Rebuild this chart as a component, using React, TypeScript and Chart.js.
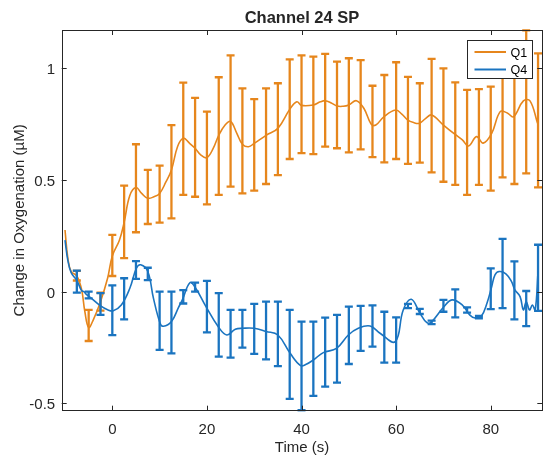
import React, { useEffect, useRef } from "react";
import { Chart, registerables } from "chart.js";

Chart.register(...registerables);

// ---- Data ----
const q1LineTime = [-10, -9.4, -8.7, -7.5, -6.5, -5.8, -5, -4, -2.5, -1, 0, 1.5, 2.5, 3.7, 5, 6.2, 7.5, 8.8, 10, 11.3, 12.5, 13.8, 15, 16.3, 17.5, 18.8, 20, 21.3, 22.5, 23.8, 25, 26.3, 27.5, 28.8, 30, 32.5, 35, 37.5, 39, 40, 42.5, 44, 45, 46.3, 47.5, 48.8, 50, 51.6, 53.2, 54.7, 55.7, 57.4, 59.9, 61.2, 62.4, 63.7, 64.9, 66.2, 67.5, 70, 72.4, 74, 75.3, 77, 78.4, 80.2, 82, 83.5, 84.8, 86.9, 88.3, 89.9];
const q1LineValue = [0.276, 0.15, 0.09, 0.07, 0.01, -0.09, -0.16, -0.125, -0.045, 0.06, 0.16, 0.23, 0.31, 0.43, 0.466, 0.44, 0.418, 0.425, 0.44, 0.49, 0.545, 0.65, 0.687, 0.665, 0.642, 0.61, 0.6, 0.64, 0.7, 0.745, 0.762, 0.71, 0.66, 0.649, 0.664, 0.7, 0.731, 0.816, 0.85, 0.834, 0.836, 0.85, 0.855, 0.845, 0.831, 0.83, 0.836, 0.855, 0.82, 0.751, 0.746, 0.783, 0.813, 0.795, 0.769, 0.757, 0.754, 0.775, 0.791, 0.746, 0.705, 0.68, 0.652, 0.694, 0.665, 0.709, 0.806, 0.8, 0.783, 0.854, 0.854, 0.754];

const q4LineTime = [-10, -9.4, -8.7, -7.5, -6.5, -6, -5.5, -4.4, -2.7, -0.9, 0.2, 1.9, 3.7, 5.1, 6, 7.5, 8.7, 10.1, 10.8, 12.5, 14, 14.8, 16.4, 17.5, 19.8, 22.4, 24.2, 26, 27.5, 30, 32.5, 35, 37.6, 39.8, 41, 42.5, 44.6, 47.4, 49.9, 52, 54.5, 56.6, 59.8, 61.5, 63.2, 65, 66.5, 67.5, 70, 71.8, 74, 75.6, 76.7, 78, 79.2, 80.2, 80.9, 81.8, 83.2, 84.4, 85.1, 86.2, 86.9, 87.5, 88.2, 88.8, 89.4, 90];
const q4LineValue = [0.231, 0.14, 0.085, 0.05, 0.005, 0.0, -0.012, -0.03, -0.06, -0.082, -0.086, -0.06, 0.015, 0.105, 0.12, 0.09, -0.03, -0.141, -0.155, -0.134, -0.07, -0.037, 0.04, 0.02, -0.067, -0.157, -0.194, -0.168, -0.164, -0.164, -0.178, -0.194, -0.276, -0.331, -0.325, -0.306, -0.273, -0.254, -0.194, -0.164, -0.154, -0.186, -0.224, -0.082, -0.034, -0.095, -0.139, -0.135, -0.07, -0.037, -0.06, -0.105, -0.118, -0.11, -0.052, 0.022, 0.075, 0.09, 0.08, 0.045, 0.008, -0.022, -0.082, -0.045, -0.082, -0.06, -0.082, 0.09];

const barTime = [-7.5, -5, -2.5, 0, 2.5, 5, 7.5, 10, 12.5, 15, 17.5, 20, 22.5, 25, 27.5, 30, 32.5, 35, 37.5, 40, 42.5, 45, 47.5, 50, 52.5, 55, 57.5, 60, 62.5, 65, 67.5, 70, 72.5, 75, 77.5, 80, 82.5, 85, 87.5, 90];
const q1Low = [0.05, -0.221, -0.085, 0.07, 0.15, 0.266, 0.303, 0.309, 0.328, 0.433, 0.425, 0.391, 0.433, 0.47, 0.44, 0.452, 0.482, 0.522, 0.594, 0.62, 0.616, 0.649, 0.642, 0.624, 0.637, 0.602, 0.579, 0.594, 0.572, 0.578, 0.534, 0.492, 0.478, 0.433, 0.478, 0.452, 0.512, 0.482, 0.53, 0.467];
const q1High = [0.093, -0.082, -0.005, 0.254, 0.475, 0.66, 0.545, 0.564, 0.746, 0.936, 0.868, 0.806, 0.96, 1.058, 0.91, 0.862, 0.91, 0.933, 1.04, 1.058, 1.052, 1.065, 1.03, 1.045, 1.037, 0.922, 0.97, 1.027, 0.962, 0.933, 1.042, 1.0, 0.937, 0.903, 0.907, 0.918, 1.1, 1.084, 1.17, 1.067];
const q4Low = [-0.004, -0.03, -0.104, -0.195, -0.124, 0.057, 0.052, -0.261, -0.276, -0.053, 0.0, -0.182, -0.291, -0.295, -0.251, -0.279, -0.303, -0.333, -0.48, -0.531, -0.467, -0.425, -0.407, -0.324, -0.265, -0.246, -0.318, -0.318, -0.074, -0.1, -0.145, -0.09, -0.115, -0.094, -0.12, -0.078, -0.074, -0.124, -0.154, -0.086];
const q4High = [0.094, 0.0, -0.007, 0.028, 0.06, 0.137, 0.107, 0.0, 0.0, 0.007, 0.04, 0.048, -0.007, -0.082, -0.082, -0.055, -0.045, -0.045, -0.082, -0.134, -0.134, -0.116, -0.104, -0.067, -0.064, -0.061, -0.09, -0.115, -0.055, -0.077, -0.13, -0.037, 0.01, -0.07, -0.109, 0.104, 0.236, 0.136, 0.003, 0.21];

const xTicks = [0, 20, 40, 60, 80];
const xTickLabels = ["0", "20", "40", "60", "80"];
const yTicks = [-0.5, 0, 0.5, 1];
const yTickLabels = ["-0.5", "0", "0.5", "1"];
const seriesNames = ["Q1", "Q4"];
const titleText = "Channel 24 SP";
const xLabel = "Time (s)";
const yLabel = "Change in Oxygenation (\u00B5M)";

const ORANGE = "#E6861C";
const BLUE = "#1A74C0";
const AXIS = "#262626";
const FONT = '"Liberation Sans", Arial, Helvetica, sans-serif';

function drawErrorBars(chart: any, low: number[], high: number[], color: string) {
  const ctx = chart.ctx;
  const xs = chart.scales.x;
  const ys = chart.scales.y;
  const a = chart.chartArea;
  ctx.save();
  ctx.beginPath();
  ctx.rect(a.left, a.top - 1, a.right - a.left, a.bottom - a.top + 2);
  ctx.clip();
  ctx.strokeStyle = color;
  ctx.lineWidth = 2.3;
  ctx.lineCap = "butt";
  const cap = 4;
  for (let i = 0; i < barTime.length; i++) {
    const px = xs.getPixelForValue(barTime[i]);
    const pl = ys.getPixelForValue(low[i]);
    const ph = ys.getPixelForValue(high[i]);
    ctx.beginPath();
    ctx.moveTo(px, pl);
    ctx.lineTo(px, ph);
    ctx.moveTo(px - cap, pl);
    ctx.lineTo(px + cap, pl);
    ctx.moveTo(px - cap, ph);
    ctx.lineTo(px + cap, ph);
    ctx.stroke();
  }
  ctx.restore();
}

const errorBarPlugin = {
  id: "errorBars",
  beforeDatasetDraw(chart: any, args: any) {
    if (args.index === 0) drawErrorBars(chart, q1Low, q1High, ORANGE);
    if (args.index === 1) drawErrorBars(chart, q4Low, q4High, BLUE);
  },
};

const framePlugin = {
  id: "frame",
  afterDraw(chart: any) {
    const ctx = chart.ctx;
    const a = chart.chartArea;
    const xs = chart.scales.x;
    const ys = chart.scales.y;
    ctx.save();
    // axes box
    ctx.strokeStyle = AXIS;
    ctx.lineWidth = 1;
    ctx.strokeRect(Math.round(a.left) + 0.5, Math.round(a.top) + 0.5, Math.round(a.right - a.left) - 1, Math.round(a.bottom - a.top) - 1);
    const tl = 5;
    ctx.beginPath();
    xTicks.forEach((t) => {
      const px = Math.round(xs.getPixelForValue(t)) + 0.5;
      ctx.moveTo(px, a.bottom);
      ctx.lineTo(px, a.bottom - tl);
      ctx.moveTo(px, a.top);
      ctx.lineTo(px, a.top + tl);
    });
    yTicks.forEach((v) => {
      const py = Math.round(ys.getPixelForValue(v)) + 0.5;
      ctx.moveTo(a.left, py);
      ctx.lineTo(a.left + tl, py);
      ctx.moveTo(a.right, py);
      ctx.lineTo(a.right - tl, py);
    });
    ctx.stroke();

    // tick labels
    ctx.fillStyle = AXIS;
    ctx.font = `15px ${FONT}`;
    ctx.textBaseline = "alphabetic";
    ctx.textAlign = "center";
    xTicks.forEach((t, i) => {
      ctx.fillText(xTickLabels[i], xs.getPixelForValue(t), a.bottom + 23.5);
    });
    ctx.textAlign = "right";
    yTicks.forEach((v, i) => {
      ctx.fillText(yTickLabels[i], a.left - 6.5, ys.getPixelForValue(v) + 6);
    });

    // axis labels
    ctx.textAlign = "center";
    ctx.fillText(xLabel, (a.left + a.right) / 2, 452);
    ctx.save();
    ctx.translate(24, (a.top + a.bottom) / 2);
    ctx.rotate(-Math.PI / 2);
    ctx.fillText(yLabel, 0, 0);
    ctx.restore();

    // title
    ctx.font = `bold 16.5px ${FONT}`;
    ctx.fillText(titleText, (a.left + a.right) / 2, 22.7);

    // legend
    const lx = 467.5, ly = 40.5, lw = 65, lh = 38;
    ctx.fillStyle = "#ffffff";
    ctx.fillRect(lx, ly, lw, lh);
    ctx.strokeStyle = AXIS;
    ctx.lineWidth = 1;
    ctx.strokeRect(lx, ly, lw, lh);
    const colors = [ORANGE, BLUE];
    const rows = [52, 69.5];
    ctx.font = `12.5px ${FONT}`;
    ctx.textAlign = "left";
    seriesNames.forEach((name, i) => {
      ctx.strokeStyle = colors[i];
      ctx.lineWidth = 2;
      ctx.beginPath();
      ctx.moveTo(474.5, rows[i]);
      ctx.lineTo(506, rows[i]);
      ctx.stroke();
      ctx.fillStyle = "#000000";
      ctx.fillText(name, 510.5, rows[i] + 4.5);
    });
    ctx.restore();
  },
};

export default function App() {
  const ref = useRef<HTMLCanvasElement | null>(null);
  useEffect(() => {
    if (!ref.current) return;
    const chart = new Chart(ref.current, {
      type: "line",
      data: {
        datasets: [
          {
            label: seriesNames[0],
            data: q1LineTime.map((t, i) => ({ x: t, y: q1LineValue[i] })),
            borderColor: ORANGE,
            borderWidth: 1.6,
            pointRadius: 0,
            tension: 0.4,
            fill: false,
            order: 1,
          },
          {
            label: seriesNames[1],
            data: q4LineTime.map((t, i) => ({ x: t, y: q4LineValue[i] })),
            borderColor: BLUE,
            borderWidth: 1.6,
            pointRadius: 0,
            tension: 0.4,
            fill: false,
            order: 0,
          },
        ],
      },
      options: {
        animation: false,
        responsive: false,
        devicePixelRatio: 1,
        layout: { padding: { left: 61.7, right: 8.7, top: 30, bottom: 48.3 } },
        scales: {
          x: { type: "linear", min: -10.7, max: 90.9, display: false },
          y: { type: "linear", min: -0.533, max: 1.1715, display: false },
        },
        plugins: {
          legend: { display: false },
          tooltip: { enabled: false },
          title: { display: false },
        },
        events: [],
      },
      plugins: [errorBarPlugin, framePlugin],
    });
    return () => chart.destroy();
  }, []);
  return (
    <div style={{ position: "absolute", left: 0, top: 0, width: 551, height: 459, background: "#fff" }}>
      <canvas ref={ref} width={551} height={459} />
    </div>
  );
}
